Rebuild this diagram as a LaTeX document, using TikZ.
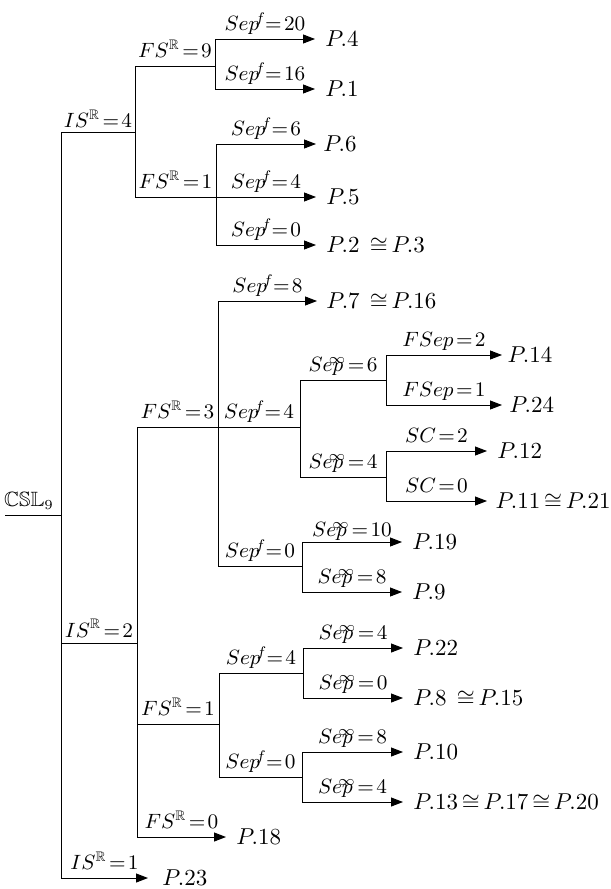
\documentclass[tikz,border=0pt]{standalone}
\usepackage{amssymb}
\usetikzlibrary{arrows.meta}
\thickmuskip=2mu\relax
\tikzset{>={Triangle[length=5.2pt,width=3.9pt]},line width=.52pt,
  arr/.style={->},
  lab/.style={anchor=base,yshift=3.5pt,inner sep=0pt,pos=.75,font=\small},
  leaf/.style={anchor=west,inner xsep=4.3pt,inner ysep=0pt}}

\begin{document}
\begin{tikzpicture}[x=.435pt,y=-.435pt]
\useasboundingbox (0,0) rectangle (610,889);
\coordinate (root) at (5,515);\coordinate (csl) at (61,515);
\draw (root) -- node[lab,pos=.5,xshift=-1.7pt] (lcsl) {$\mathbb{CSL}_9$} (csl);
\coordinate (is4) at (135,132);\coordinate (is2) at (137,643);\node[leaf,inner xsep=6.1pt] (p23) at (148,878) {$P.23$};
\draw (csl) |- node[lab,yshift=-1.7pt] (lis4) {$IS^{\mathbb{R}}=4$} (is4);
\draw (csl) |- node[lab,yshift=-.9pt] (lis2) {$IS^{\mathbb{R}}=2$} (is2);
\draw[arr] (csl) |- node[lab] (lis1) {$IS^{\mathbb{R}}=1$} (p23);
\coordinate (fs9) at (215,66);\coordinate (fs1a) at (216,197);
\draw (is4) |- node[lab] (lfs9) {$FS^{\mathbb{R}}=9$} (fs9);
\draw (is4) |- node[lab] (lfs1a) {$FS^{\mathbb{R}}=1$} (fs1a);
\node[leaf] (p4) at (315,39) {$P.4$};\node[leaf] (p1) at (315,89) {$P.1$};
\draw[arr] (fs9) |- node[lab] (lsf20) {$Sep\rlap{${}^{\mkern-4mu f}$}\mkern3mu=20$} (p4);
\draw[arr] (fs9) |- node[lab] (lsf16) {$Sep\rlap{${}^{\mkern-4mu f}$}\mkern3mu=16$} (p1);
\node[leaf,inner xsep=3pt] (p6) at (316,144) {$P.6$};\node[leaf] (p5) at (316,197) {$P.5$};\node[leaf] (p2) at (316,245) {$P.2\mkern8mu{\cong}\mkern3mu P.3$};
\draw[arr] (fs1a) |- node[lab] (lsf6) {$Sep\rlap{${}^{\mkern-4mu f}$}\mkern3mu=6$} (p6);
\draw[arr] (fs1a) |- node[lab] (lsf4a) {$Sep\rlap{${}^{\mkern-4mu f}$}\mkern3mu=4$} (p5);
\draw[arr] (fs1a) |- node[lab] (lsf0a) {$Sep\rlap{${}^{\mkern-4mu f}$}\mkern3mu=0$} (p2);
\coordinate (fs3) at (218,427);\coordinate (fs1b) at (219,724);\node[leaf] (p18) at (226,837) {$P.18$};
\draw (is2) |- node[lab] (lfs3) {$FS^{\mathbb{R}}=3$} (fs3);
\draw (is2) |- node[lab] (lfs1b) {$FS^{\mathbb{R}}=1$} (fs1b);
\draw[arr] (is2) |- node[lab] (lfs0) {$FS^{\mathbb{R}}=0$} (p18);
\coordinate (sf4b) at (300,427);\coordinate (sf0b) at (302,566);\node[leaf,inner xsep=3.9pt] (p7) at (317,301) {$P.7\mkern8mu{\cong}\mkern3mu P.16$};
\draw[arr] (fs3) |- node[lab] (lsf8) {$Sep\rlap{${}^{\mkern-4mu f}$}\mkern3mu=8$} (p7);
\draw (fs3) |- node[lab] (lsf4b) {$Sep\rlap{${}^{\mkern-4mu f}$}\mkern3mu=4$} (sf4b);
\draw (fs3) |- node[lab] (lsf0b) {$Sep\rlap{${}^{\mkern-4mu f}$}\mkern3mu=0$} (sf0b);
\coordinate (si6) at (386,380);\coordinate (si4a) at (386,477);
\draw (sf4b) |- node[lab] (lsi6) {$Sep\rlap{${}^{\mkern-15mu\infty}$}\mkern2mu=6$} (si6);
\draw (sf4b) |- node[lab] (lsi4a) {$Sep\rlap{${}^{\mkern-15mu\infty}$}\mkern2mu=4$} (si4a);
\node[leaf,inner xsep=2.2pt] (p14) at (502,355) {$P.14$};\node[leaf,inner xsep=3pt] (p24) at (502,405) {$P.24$};
\draw[arr] (si6) |- node[lab] (lfsep2) {$FSep=2$} (p14);
\draw[arr] (si6) |- node[lab] (lfsep1) {$FSep=1$} (p24);
\node[leaf] (p12) at (487,451) {$P.12$};\node[leaf,inner xsep=3.5pt] (p11) at (487,501) {$P.11\mkern3mu{\cong}\mkern3mu P.21$};
\draw[arr] (si4a) |- node[lab] (lsc2) {$SC=2$} (p12);
\draw[arr] (si4a) |- node[lab] (lsc0) {$SC=0$} (p11);
\node[leaf] (p19) at (402,542) {$P.19$};\node[leaf] (p9) at (402,592) {$P.9$};
\draw[arr] (sf0b) |- node[lab,yshift=-1.3pt] (lsi10) {$Sep\rlap{${}^{\mkern-15mu\infty}$}\mkern2mu=10$} (p19);
\draw[arr] (sf0b) |- node[lab] (lsi8a) {$Sep\rlap{${}^{\mkern-15mu\infty}$}\mkern2mu=8$} (p9);
\coordinate (sf4c) at (303,673);\coordinate (sf0c) at (302,777);
\draw (fs1b) |- node[lab] (lsf4c) {$Sep\rlap{${}^{\mkern-4mu f}$}\mkern3mu=4$} (sf4c);
\draw (fs1b) |- node[lab] (lsf0c) {$Sep\rlap{${}^{\mkern-4mu f}$}\mkern3mu=0$} (sf0c);
\node[leaf] (p22) at (403,648) {$P.22$};\node[leaf] (p8) at (403,698) {$P.8\mkern8mu{\cong}\mkern3mu P.15$};
\draw[arr] (sf4c) |- node[lab] (lsi4b) {$Sep\rlap{${}^{\mkern-15mu\infty}$}\mkern2mu=4$} (p22);
\draw[arr] (sf4c) |- node[lab] (lsi0) {$Sep\rlap{${}^{\mkern-15mu\infty}$}\mkern2mu=0$} (p8);
\node[leaf] (p10) at (403,752) {$P.10$};\node[leaf] (p13) at (403,802) {$P.13\mkern3mu{\cong}\mkern3mu P.17\mkern3mu{\cong}\mkern3mu P.20$};
\draw[arr] (sf0c) |- node[lab] (lsi8b) {$Sep\rlap{${}^{\mkern-15mu\infty}$}\mkern2mu=8$} (p10);
\draw[arr] (sf0c) |- node[lab] (lsi4c) {$Sep\rlap{${}^{\mkern-15mu\infty}$}\mkern2mu=4$} (p13);
\end{tikzpicture}
\end{document}
